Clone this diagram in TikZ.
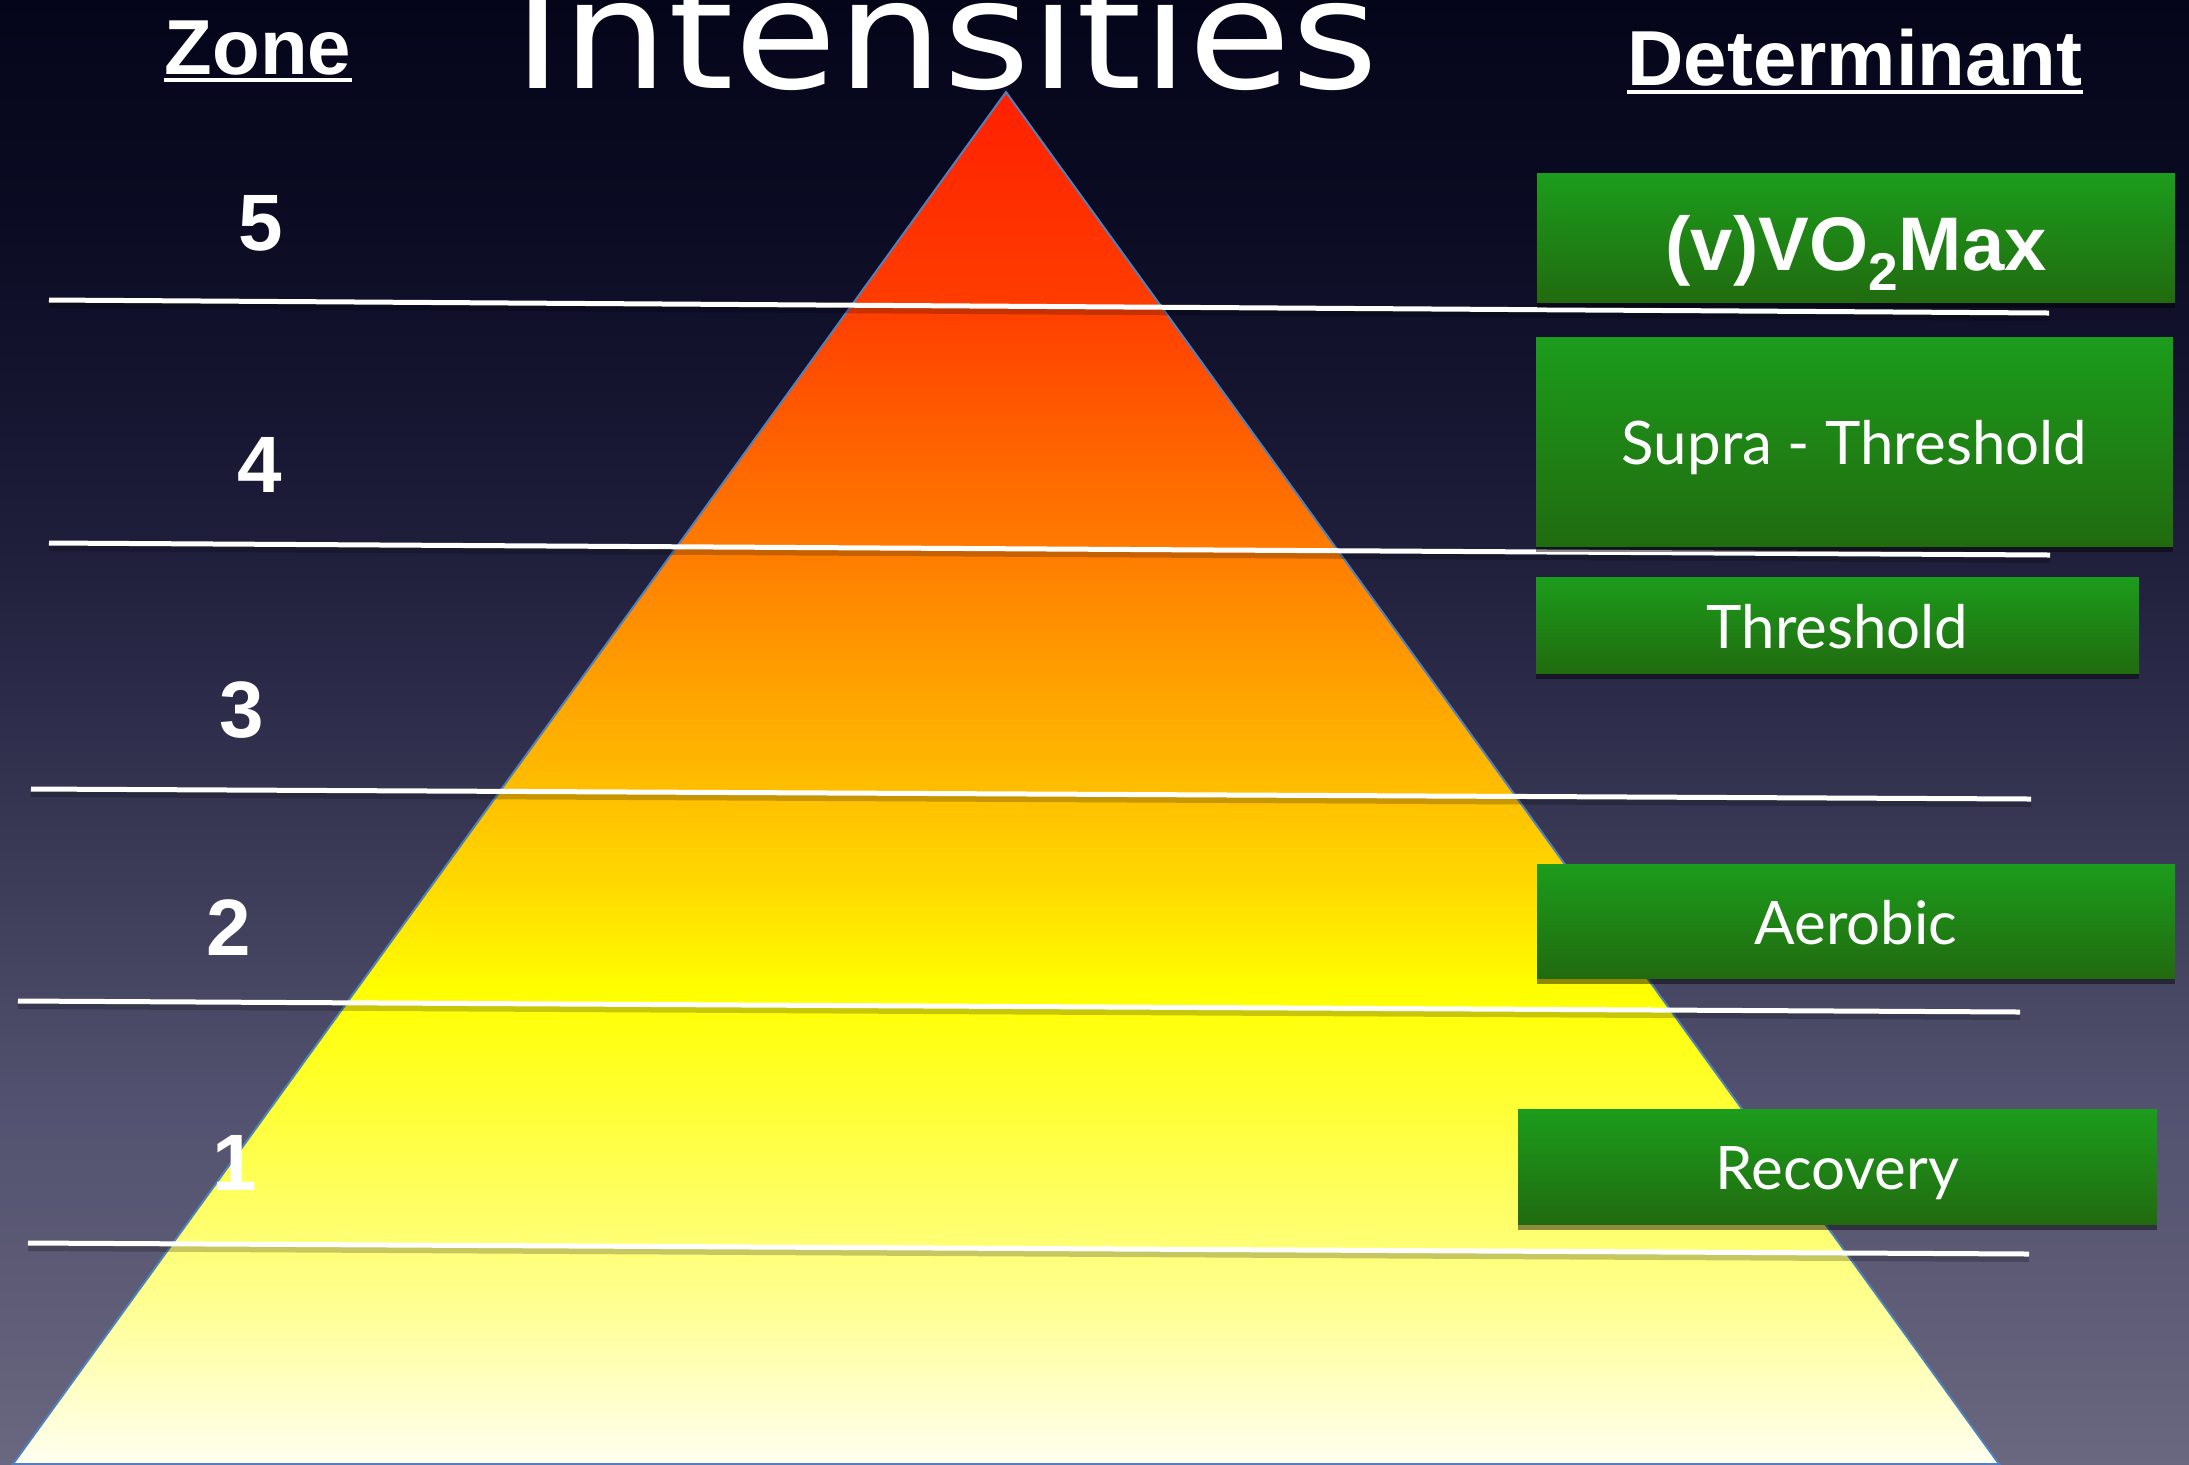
\documentclass[tikz,border=0pt]{standalone}
\usepackage{fontspec}
\setmainfont{Lato}
\newfontfamily\helvfont{Liberation Sans}
\newfontfamily\titlefont{DejaVu Sans}
\usetikzlibrary{shadows}

\definecolor{skyA}{HTML}{05051A}
\definecolor{skyB}{HTML}{0A0A22}
\definecolor{skyC}{HTML}{151530}
\definecolor{skyD}{HTML}{1F1F3C}
\definecolor{skyE}{HTML}{2C2C4A}
\definecolor{skyF}{HTML}{3E3E5A}
\definecolor{skyG}{HTML}{525270}
\definecolor{skyH}{HTML}{5E5C76}
\definecolor{skyI}{HTML}{6A6880}
\definecolor{pyrA}{HTML}{FF2000}
\definecolor{pyrB}{HTML}{FF3C00}
\definecolor{pyrC}{HTML}{FF5C00}
\definecolor{pyrD}{HTML}{FF7C00}
\definecolor{pyrE}{HTML}{FFBE00}
\definecolor{pyrF}{HTML}{FFD800}
\definecolor{pyrG}{HTML}{FFFF00}
\definecolor{pyrH}{HTML}{FFFF4A}
\definecolor{pyrI}{HTML}{FFFF90}
\definecolor{pyrJ}{HTML}{FFFFF2}
\definecolor{edge}{HTML}{4F81BD}
\definecolor{boxtop}{HTML}{1C9C1C}
\definecolor{boxbot}{HTML}{216B0F}

\pgfdeclareverticalshading{nightsky}{100bp}{color(0bp)=(skyI); color(25bp)=(skyI);
  color(30.6bp)=(skyH); color(37.43bp)=(skyG); color(44.26bp)=(skyF);
  color(51.09bp)=(skyE); color(56.22bp)=(skyD); color(61.34bp)=(skyC);
  color(68.17bp)=(skyB); color(75bp)=(skyA); color(100bp)=(skyA)}
\pgfdeclareverticalshading{pyramid}{100bp}{color(0bp)=(pyrJ); color(25bp)=(pyrJ);
  color(30.98bp)=(pyrI); color(36.44bp)=(pyrH); color(42.27bp)=(pyrG);
  color(46.28bp)=(pyrF); color(49.56bp)=(pyrE); color(58.31bp)=(pyrD);
  color(63.05bp)=(pyrC); color(67.42bp)=(pyrB); color(75bp)=(pyrA); color(100bp)=(pyrA)}

\begin{document}
\begin{tikzpicture}[x=0.5pt,y=-0.5pt]
\tikzstyle{zone} = [text=white, inner sep=0pt, font=\helvfont\bfseries\fontsize{40}{48}\selectfont];
\tikzstyle{head} = [text=white, inner sep=0pt, anchor=base, font=\helvfont\bfseries\fontsize{39}{46}\selectfont];
\tikzstyle{det} = [top color=boxtop, bottom color=boxbot, text=white, inner sep=0pt,
  drop shadow={shadow xshift=0pt, shadow yshift=-3pt, opacity=.45, fill=black},
  text height=23pt, text depth=0pt, font=\fontsize{30}{36}\selectfont];
\tikzstyle{bar} = [white, line width=2.5pt];
\tikzstyle{barshadow} = [black, opacity=.22, line width=3pt];

\useasboundingbox (0,0) rectangle (2189,1464);
\shade[shading=nightsky] (0,0) rectangle (2189,1464);

\node[anchor=base, text=white, font=\titlefont\fontsize{76}{90}\selectfont] (title) at (946,88) {\scalebox{1.1}[1]{Intensities}};
\node[head] (zonehead) at (258,74) {Zone};
\draw[white, line width=2pt] ([yshift=-3pt]zonehead.base west) -- ([yshift=-3pt]zonehead.base east);
\node[head] (dethead) at (1855,85) {Determinant};
\draw[white, line width=2pt] ([yshift=-3.5pt]dethead.base west) -- ([yshift=-3.5pt]dethead.base east);

\coordinate (apex) at (1006,92);
\coordinate (baseL) at (13,1464);
\coordinate (baseR) at (1999,1464);
\shadedraw[shading=pyramid, draw=edge, line width=1pt] (apex) -- (baseL) -- (baseR) -- cycle;
%
\coordinate (l1a) at (49,300);
\coordinate (l1b) at (2049,313);
\coordinate (l2a) at (49,543);
\coordinate (l2b) at (2050,555);
\coordinate (l3a) at (31,789);
\coordinate (l3b) at (2031,799);
\coordinate (l4a) at (18,1001);
\coordinate (l4b) at (2020,1012);
\coordinate (l5a) at (28,1243);
\coordinate (l5b) at (2029,1254);
\draw[barshadow] ([yshift=-2.5pt]l1a) -- ([yshift=-2.5pt]l1b);
\draw[bar] (l1a) -- (l1b);
\draw[barshadow] ([yshift=-2.5pt]l2a) -- ([yshift=-2.5pt]l2b);
\draw[bar] (l2a) -- (l2b);
\draw[barshadow] ([yshift=-2.5pt]l3a) -- ([yshift=-2.5pt]l3b);
\draw[bar] (l3a) -- (l3b);
\draw[barshadow] ([yshift=-2.5pt]l4a) -- ([yshift=-2.5pt]l4b);
\draw[bar] (l4a) -- (l4b);
\draw[barshadow] ([yshift=-2.5pt]l5a) -- ([yshift=-2.5pt]l5b);
\draw[bar] (l5a) -- (l5b);

\node[zone] (z5) at (261,223) {5};
\node[zone] (z4) at (260,465) {4};
\node[zone] (z3) at (242,710) {3};
\node[zone] (z2) at (229,928) {2};
\node[zone] (z1) at (235,1163) {1};

\node[det, minimum width=319pt, minimum height=64.5pt, text height=32.5pt,
  font=\helvfont\bfseries\fontsize{38}{44}\selectfont] (vo2) at (1856,237.5) {(v)VO\textsubscript{2}Max};
\node[det, minimum width=318.5pt, minimum height=104.5pt] (supra) at (1854.5,441.5) {Supra - Threshold};
\node[det, minimum width=301.5pt, minimum height=48pt] (thresh) at (1837.5,625) {Threshold};
\node[det, minimum width=319pt, minimum height=57pt] (aero) at (1856,921) {Aerobic};
\node[det, minimum width=319.5pt, minimum height=57.5pt] (recov) at (1837.5,1166.5) {Recovery};
\end{tikzpicture}
\end{document}
